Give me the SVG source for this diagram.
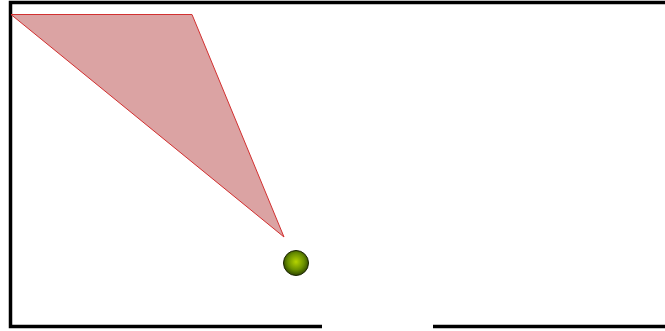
<svg xmlns="http://www.w3.org/2000/svg" width="665" height="331" viewBox="0 0 665 331">
<style>
.wall{stroke:#000;stroke-width:3.5;fill:none;stroke-linecap:butt}
</style>
<defs>
<radialGradient id="ballg" cx="0.5" cy="0.45" r="0.55">
<stop offset="0" stop-color="#b5d400"/>
<stop offset="0.6" stop-color="#6a9000"/>
<stop offset="1" stop-color="#2e4500"/>
</radialGradient>
</defs>
<rect width="665" height="331" fill="#fff"/>
<g id="walls">
<path class="wall" d="M665,2.5 H10.5 V326.5 H322"/>
<path class="wall" d="M433,326.5 H665"/>
</g>
<g id="cone">
<polygon points="11,14.5 192,14.5 284,237" fill="#dba3a3" stroke="#d23030" stroke-width="1"/>
</g>
<g id="ball">
<circle cx="296" cy="263" r="12.5" fill="url(#ballg)" stroke="#1a2400" stroke-width="1"/>
</g>
</svg>
